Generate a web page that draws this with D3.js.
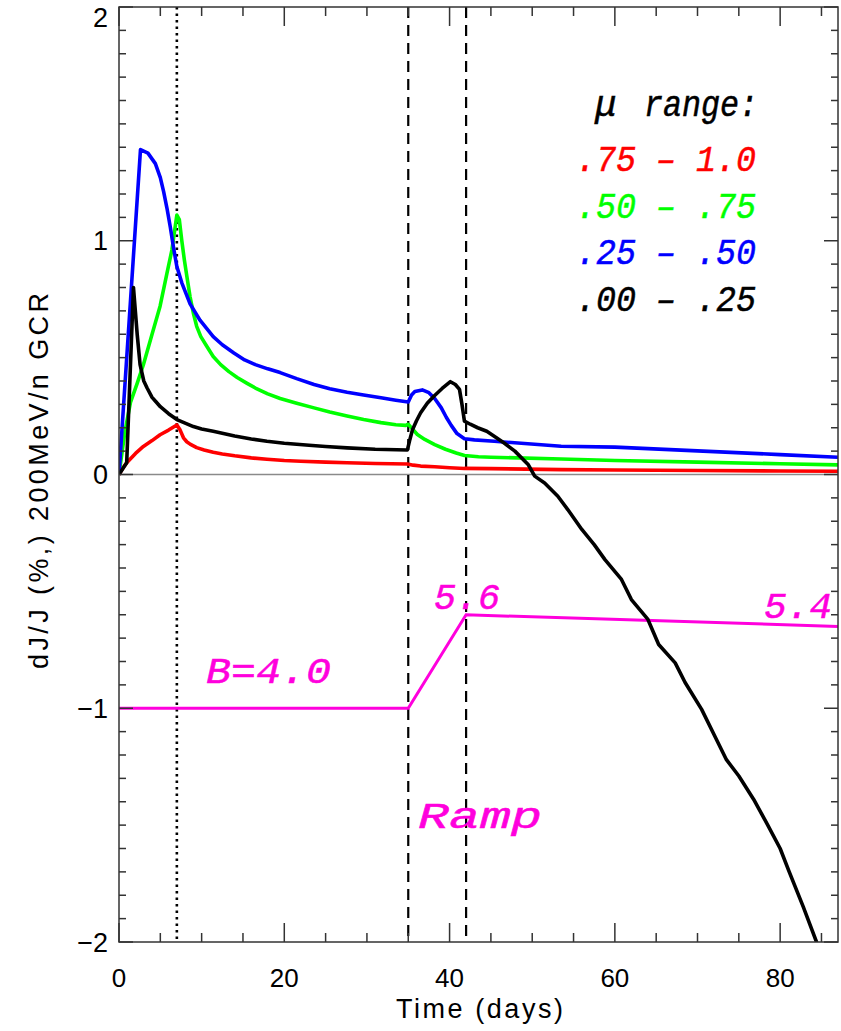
<!DOCTYPE html>
<html>
<head>
<meta charset="utf-8">
<script src="https://cdn.jsdelivr.net/npm/d3@7"></script>
<style>
  html, body { margin: 0; padding: 0; background: #fff; }
  svg { display: block; }
</style>
</head>
<body>
<svg id="chart" width="841" height="1031"></svg>
<script>
// ---- data -------------------------------------------------------------
// GCR anisotropy response dJ/J (%) at 200 MeV/n, by pitch-angle (mu) range
const muRanges = [".75 – 1.0", ".50 – .75", ".25 – .50", ".00 – .25"];
const rangeColors = ["#ff0000", "#00ff00", "#0000ff", "#000000"];

const timeRed = [0, 0.5, 0.93, 2.0, 2.95, 4.0, 4.97, 6.0, 7.0, 7.4, 7.8, 8.2, 8.6, 9.4, 10.3, 11.4, 12.5, 14, 16, 17.9, 20, 22, 25, 27.6, 31, 34.9, 35.6, 36.5, 38.2, 40, 41.8, 45, 53.5, 60, 70, 80, 87];
const valRed  = [0, 0.03, 0.05, 0.09, 0.12, 0.145, 0.17, 0.19, 0.212, 0.19, 0.157, 0.14, 0.13, 0.115, 0.105, 0.095, 0.088, 0.08, 0.071, 0.065, 0.06, 0.057, 0.053, 0.05, 0.047, 0.045, 0.04, 0.036, 0.033, 0.029, 0.026, 0.025, 0.021, 0.019, 0.017, 0.015, 0.014];

const timeGreen = [0, 0.7, 1.4, 2.2, 2.95, 4.0, 4.97, 5.8, 6.4, 7.0, 7.3, 7.6, 7.9, 8.2, 8.6, 9.0, 9.4, 9.9, 10.6, 11.4, 12.3, 13.3, 14.3, 15.5, 16.5, 18, 19.5, 21.5, 23.6, 25.5, 27.6, 29.6, 31.7, 33.5, 34.7, 35.0, 35.5, 36.1, 37, 38.2, 39.5, 40.8, 41.8, 43.5, 45, 53.5, 60, 70, 80, 87];
const valGreen  = [0, 0.18, 0.31, 0.39, 0.47, 0.6, 0.72, 0.86, 0.96, 1.11, 1.09, 1.0, 0.92, 0.85, 0.76, 0.69, 0.634, 0.59, 0.55, 0.505, 0.47, 0.44, 0.415, 0.39, 0.37, 0.345, 0.325, 0.305, 0.285, 0.267, 0.25, 0.235, 0.222, 0.213, 0.21, 0.215, 0.195, 0.171, 0.15, 0.128, 0.108, 0.092, 0.081, 0.076, 0.074, 0.066, 0.06, 0.053, 0.046, 0.041];

const timeBlue = [0, 2.6, 3.5, 4.4, 5.0, 5.4, 5.8, 6.2, 6.6, 7.0, 7.6, 8.6, 9.8, 11.4, 12.5, 13.9, 15.2, 16.5, 18, 19.5, 21.5, 23.6, 25.5, 27.6, 29.6, 31.7, 33.5, 35.0, 35.4, 35.8, 36.7, 37.5, 38.2, 39.0, 39.6, 40.2, 40.9, 41.8, 43, 45.4, 53.5, 60, 70, 80, 87];
const valBlue  = [0, 1.39, 1.375, 1.33, 1.27, 1.21, 1.14, 1.06, 0.97, 0.89, 0.82, 0.73, 0.66, 0.59, 0.555, 0.52, 0.49, 0.47, 0.452, 0.436, 0.41, 0.385, 0.367, 0.352, 0.34, 0.328, 0.318, 0.31, 0.34, 0.355, 0.362, 0.35, 0.325, 0.285, 0.245, 0.21, 0.175, 0.153, 0.148, 0.142, 0.121, 0.117, 0.101, 0.085, 0.074];

const timeBlack = [0, 0.93, 1.75, 2.2, 2.55, 3.0, 3.4, 4.0, 4.5, 5.0, 6.0, 7.0, 8, 9, 10, 11.4, 14, 16, 17.9, 20, 23, 25, 27.6, 31, 34.9, 35.2, 35.5, 36.0, 36.5, 37.3, 38.1, 39.1, 40.1, 40.7, 41.2, 41.5, 41.8, 42.5, 43.4, 44.5, 45.4, 46.6, 47.9, 49.5, 50.3, 51.5, 53.1, 54.3, 56, 57.5, 58.8, 60.8, 62, 64, 65.3, 67.3, 68.5, 70.5, 72.1, 73.5, 75, 76.8, 78.5, 80, 81.1, 82.8, 84.4, 85];
const valBlack  = [0, 0.05, 0.8, 0.6, 0.47, 0.4, 0.37, 0.33, 0.31, 0.29, 0.26, 0.235, 0.22, 0.205, 0.195, 0.185, 0.165, 0.152, 0.142, 0.134, 0.125, 0.12, 0.114, 0.108, 0.105, 0.15, 0.19, 0.23, 0.264, 0.305, 0.335, 0.368, 0.397, 0.385, 0.364, 0.3, 0.228, 0.215, 0.2, 0.185, 0.164, 0.135, 0.1, 0.043, -0.007, -0.036, -0.093, -0.15, -0.235, -0.3, -0.364, -0.449, -0.535, -0.62, -0.727, -0.806, -0.89, -1.005, -1.12, -1.22, -1.29, -1.39, -1.5, -1.6, -1.7, -1.85, -2.0, -2.05];

// magnetic field profile (nT): B = 4.0, ramp 35-42 d to 5.6, then 5.4
const fieldTimes  = [0, 35, 42, 87];
const fieldValues = [4.0, 4.0, 5.6, 5.4];

// event markers (days)
const dottedMarkers = [7];
const dashedMarkers = [35, 42];

// axis ticks
const xMajorTicks = [0, 20, 40, 60, 80];
const xMinorTicks = [5, 10, 15, 25, 30, 35, 45, 50, 55, 65, 70, 75, 85];
const yMajorTicks = [-2, -1, 0, 1, 2];
const yTickLabels = ["−2", "−1", "0", "1", "2"];

// ---- layout ----------------------------------------------------------
const svg = d3.select("#chart");
const plotL = 119, plotR = 838, plotT = 7, plotB = 942;

const x = d3.scaleLinear().domain([0, 87]).range([plotL, plotR]);
const y = d3.scaleLinear().domain([-2, 2]).range([plotB, plotT]);
// field strength drawn on the same panel: 4 nT at -1, +0.25 per nT
const fieldToY = d3.scaleLinear().domain([4, 8]).range([-1, 0]);

const axisColor = "#333";
const labelFont = "'Liberation Sans', Arial, sans-serif";
const italicFont = "'Liberation Mono', 'Courier New', monospace";
const fieldColor = "#ff00dd";

svg.append("defs").append("clipPath").attr("id", "plotClip")
  .append("rect").attr("x", plotL).attr("y", plotT)
  .attr("width", plotR - plotL).attr("height", plotB - plotT);

// zero reference line
svg.append("line")
  .attr("x1", plotL).attr("x2", plotR)
  .attr("y1", y(0)).attr("y2", y(0))
  .attr("stroke", "#8a8a8a").attr("stroke-width", 1.6);

// event markers
svg.selectAll("line.dotted").data(dottedMarkers).join("line")
  .attr("class", "dotted")
  .attr("x1", d => x(d)).attr("x2", d => x(d))
  .attr("y1", plotT).attr("y2", plotB)
  .attr("stroke", "#000").attr("stroke-width", 2.6)
  .attr("stroke-dasharray", "2.5,4");

svg.selectAll("line.dashed").data(dashedMarkers).join("line")
  .attr("class", "dashed")
  .attr("x1", d => x(d)).attr("x2", d => x(d))
  .attr("y1", plotT).attr("y2", plotB)
  .attr("stroke", "#000").attr("stroke-width", 2.2)
  .attr("stroke-dasharray", "11,7");

// field profile
const line = d3.line().x(d => x(d[0])).y(d => y(d[1]));
svg.append("path")
  .datum(d3.zip(fieldTimes, fieldValues.map(b => fieldToY(b))))
  .attr("d", line)
  .attr("fill", "none").attr("stroke", fieldColor).attr("stroke-width", 3);

// anisotropy curves
const series = [
  [timeRed, valRed], [timeGreen, valGreen], [timeBlue, valBlue], [timeBlack, valBlack]
];
const curves = svg.append("g").attr("clip-path", "url(#plotClip)");
series.forEach(([t, v], i) => {
  curves.append("path")
    .datum(d3.zip(t, v))
    .attr("d", line)
    .attr("fill", "none")
    .attr("stroke", rangeColors[i])
    .attr("stroke-width", 3.6)
    .attr("stroke-linejoin", "round");
});

// ---- axes ---------------------------------------------------------------
const axes = svg.append("g").attr("stroke", axisColor).attr("stroke-width", 1.5);
axes.append("rect").attr("x", plotL).attr("y", plotT)
  .attr("width", plotR - plotL).attr("height", plotB - plotT).attr("fill", "none");

// x ticks (bottom and top, pointing inward)
const xTicks = xMajorTicks.map(d => [d, 19]).concat(xMinorTicks.map(d => [d, 9]));
xTicks.forEach(([d, len]) => {
  axes.append("line").attr("x1", x(d)).attr("x2", x(d)).attr("y1", plotB).attr("y2", plotB - len);
  axes.append("line").attr("x1", x(d)).attr("x2", x(d)).attr("y1", plotT).attr("y2", plotT + len);
});

// y ticks (left and right, pointing inward); minor every 0.1
const yMinor = d3.range(-20, 21).filter(k => k % 10 !== 0).map(k => k / 10);
const yTicks = yMajorTicks.map(d => [d, 14]).concat(yMinor.map(d => [d, 7]));
yTicks.forEach(([d, len]) => {
  axes.append("line").attr("x1", plotL).attr("x2", plotL + len).attr("y1", y(d)).attr("y2", y(d));
  axes.append("line").attr("x1", plotR).attr("x2", plotR - len).attr("y1", y(d)).attr("y2", y(d));
});

// tick labels
svg.selectAll("text.xtick").data(xMajorTicks).join("text")
  .attr("class", "xtick")
  .attr("x", d => x(d)).attr("y", 987)
  .attr("text-anchor", "middle")
  .attr("font-family", labelFont).attr("font-size", 26)
  .text(d => d);

svg.selectAll("text.ytick").data(yMajorTicks).join("text")
  .attr("class", "ytick")
  .attr("x", 108)
  .attr("y", d => (d === 2 ? y(d) + 10 : y(d)))
  .attr("dy", "0.36em")
  .attr("text-anchor", "end")
  .attr("font-family", labelFont).attr("font-size", 27)
  .text((d, i) => yTickLabels[i]);

// axis titles
svg.append("text")
  .attr("x", 396).attr("y", 1018)
  .attr("font-family", labelFont).attr("font-size", 27)
  .attr("textLength", 167).attr("lengthAdjust", "spacing")
  .text("Time (days)");

svg.append("text")
  .attr("transform", "translate(48,481) rotate(-90)")
  .attr("text-anchor", "middle")
  .attr("font-family", labelFont).attr("font-size", 27)
  .attr("textLength", 376).attr("lengthAdjust", "spacing")
  .text("dJ/J (%,) 200MeV/n GCR");

// ---- legend and annotations -------------------------------------------
function italicLabel(str, x0, baseline, width, color, size) {
  svg.append("text")
    .attr("x", x0).attr("y", baseline)
    .attr("font-family", italicFont).attr("font-style", "italic")
    .attr("font-size", size)
    .attr("textLength", width).attr("lengthAdjust", "spacingAndGlyphs")
    .attr("fill", color)
    .attr("stroke", color).attr("stroke-width", 0.5)
    .text(str);
}

italicLabel("μ", 595, 116, 22, "#000", 36);
italicLabel("range:", 644, 116, 114, "#000", 36);
const legendBaselines = [171, 218, 264, 311];
muRanges.forEach((r, i) => italicLabel(r, 576, legendBaselines[i], 180, rangeColors[i], 36));

italicLabel("B=4.0", 206, 683, 125, fieldColor, 36);
italicLabel("5.6", 434, 609, 66, fieldColor, 36);
italicLabel("5.4", 764, 618, 68, fieldColor, 36);
italicLabel("Ramp", 418, 828, 124, fieldColor, 36);
</script>
</body>
</html>
